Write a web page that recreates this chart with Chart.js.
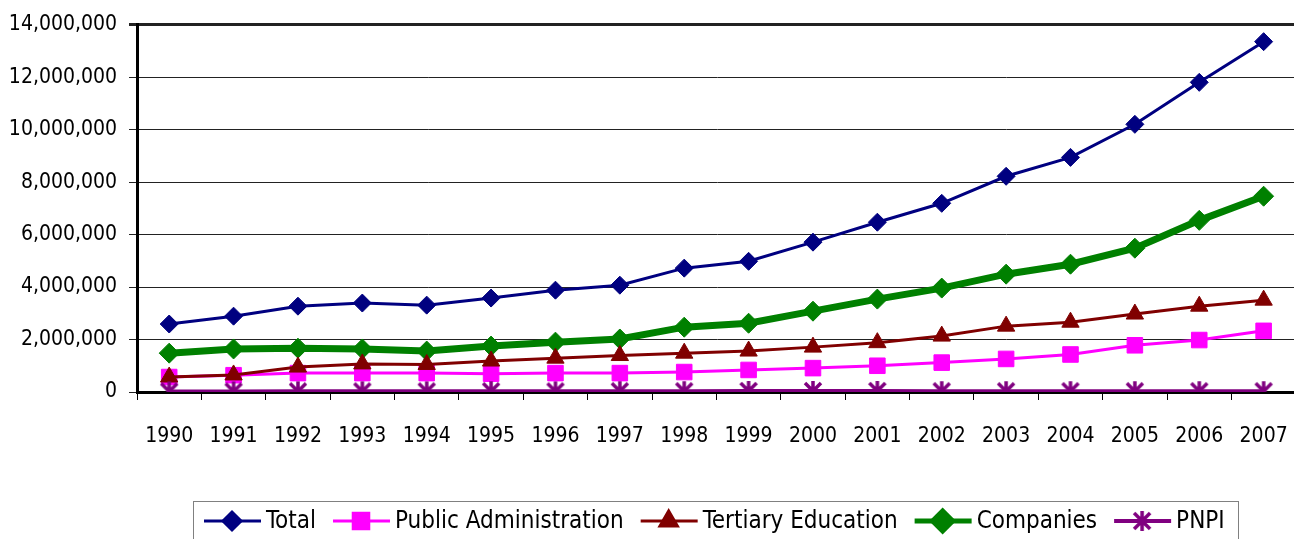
<!DOCTYPE html>
<html>
<head>
<meta charset="utf-8">
<script src="https://cdn.jsdelivr.net/npm/chart.js@4.4.0/dist/chart.umd.min.js"></script>
<style>
  body { margin: 0; overflow: hidden; background: #fff; }
  canvas { display: block; }
</style>
</head>
<body>
<canvas id="lineChart" width="1312" height="539"></canvas>
<script>
// data
const years = ["1990", "1991", "1992", "1993", "1994", "1995", "1996", "1997", "1998",
  "1999", "2000", "2001", "2002", "2003", "2004", "2005", "2006", "2007"];
const total = [2590000, 2890000, 3270000, 3390000, 3310000, 3580000, 3880000, 4070000, 4720000,
  4980000, 5710000, 6470000, 7190000, 8220000, 8940000, 10200000, 11800000, 13350000];
const publicAdmin = [570000, 640000, 720000, 720000, 720000, 700000, 720000, 720000, 760000,
  840000, 910000, 1000000, 1120000, 1260000, 1430000, 1780000, 1980000, 2330000];
const tertiary = [570000, 650000, 950000, 1070000, 1050000, 1180000, 1290000, 1390000, 1480000,
  1560000, 1710000, 1880000, 2130000, 2510000, 2660000, 2970000, 3270000, 3500000];
const companies = [1480000, 1640000, 1670000, 1640000, 1560000, 1750000, 1900000, 2020000, 2470000,
  2620000, 3080000, 3540000, 3960000, 4490000, 4870000, 5480000, 6540000, 7460000];
const pnpi = [20000, 20000, 25000, 25000, 25000, 30000, 25000, 30000, 30000,
  40000, 40000, 40000, 30000, 30000, 30000, 30000, 30000, 30000];
const yTicks = [0, 2000000, 4000000, 6000000, 8000000, 10000000, 12000000, 14000000];

const FONT = '"Liberation Sans Narrow", "DejaVu Sans Condensed", "Liberation Sans", sans-serif';
Chart.defaults.font.family = FONT;
Chart.defaults.font.size = 21;
Chart.defaults.color = '#000';

// asterisk marker for PNPI
function makeStar(color) {
  let c = document.createElement('canvas');
  c.width = 22; c.height = 22;
  let g = c.getContext('2d');
  g.strokeStyle = color;
  g.lineWidth = 3.5;
  g.beginPath();
  g.moveTo(11, 1); g.lineTo(11, 21);
  g.moveTo(3, 3); g.lineTo(19, 19);
  g.moveTo(19, 3); g.lineTo(3, 19);
  g.stroke();
  return c;
}
const starImg = makeStar('#800080');

const legendBox = {
  id: 'legendBox',
  afterDraw(chart) {
    const ctx = chart.ctx;
    ctx.save();
    ctx.strokeStyle = '#808080';
    ctx.lineWidth = 1;
    ctx.strokeRect(193.5, 501.5, 1045, 60);
    ctx.font = '24px ' + FONT;
    ctx.textBaseline = 'middle';
    let x = 204, y = 521;
    chart.data.datasets.forEach(ds => {
      ctx.strokeStyle = ds.borderColor;
      ctx.lineWidth = Math.min(ds.borderWidth, 5);
      ctx.beginPath();
      ctx.moveTo(x, y); ctx.lineTo(x + 57, y);
      ctx.stroke();
      if (ds.pointStyle instanceof HTMLCanvasElement) {
        ctx.drawImage(ds.pointStyle, x + 17, y - 11);
      } else {
        ctx.fillStyle = ds.pointBackgroundColor;
        ctx.strokeStyle = ds.pointBorderColor;
        Chart.helpers.drawPoint(ctx, {
          pointStyle: ds.pointStyle, rotation: 0,
          radius: ds.pointRadius, borderWidth: 1
        }, x + 28, y);
      }
      ctx.fillStyle = '#000';
      ctx.fillText(ds.label, x + 62, y + 1);
      x += 62 + ctx.measureText(ds.label).width + 17;
    });
    ctx.restore();
  }
};

function line(label, data, color, width, style, radius, order) {
  return {
    label: label, data: data, borderColor: color, borderWidth: width,
    pointStyle: style, pointRadius: radius, pointHoverRadius: radius,
    pointBackgroundColor: color, pointBorderColor: color, pointBorderWidth: 1,
    tension: 0, order: order
  };
}

const ctxL = document.getElementById('lineChart').getContext('2d');
const myLineChart = new Chart(ctxL, {
  type: 'line',
  data: {
    labels: years,
    datasets: [
      line('Total', total, '#000080', 3, 'rectRot', 9, 5),
      line('Public Administration', publicAdmin, '#FF00FF', 3, 'rect', 11, 3),
      line('Tertiary Education', tertiary, '#800000', 3, 'triangle', 10, 2),
      line('Companies', companies, '#008000', 7, 'rectRot', 10, 4),
      line('PNPI', pnpi, '#800080', 4, starImg, 9, 1)
    ]
  },
  options: {
    responsive: false,
    animation: false,
    devicePixelRatio: 1,
    layout: { padding: { left: 0, right: 9, top: 22, bottom: 0 } },
    plugins: { legend: { display: false }, tooltip: { enabled: false } },
    scales: {
      x: {
        offset: true,
        grid: { offset: true, drawOnChartArea: false, drawTicks: true, tickLength: 8, color: '#000', lineWidth: 1 },
        border: { display: true, color: '#000', width: 3 },
        ticks: { padding: 24, maxRotation: 0, autoSkip: false, color: '#000' },
        afterFit(scale) { scale.height = 147; }
      },
      y: {
        min: 0, max: 14000000,
        afterBuildTicks(scale) { scale.ticks = yTicks.map(v => ({ value: v })); },
        grid: {
          color: '#222',
          lineWidth: ctx => (ctx.tick && ctx.tick.value === 14000000) ? 3 : 1,
          tickLength: 8
        },
        border: { display: true, color: '#000', width: 3 },
        ticks: { padding: 12, color: '#000', callback: v => v.toLocaleString('en-US') },
        afterFit(scale) { scale.width = 137; }
      }
    }
  },
  plugins: [legendBox]
});
</script>
</body>
</html>
